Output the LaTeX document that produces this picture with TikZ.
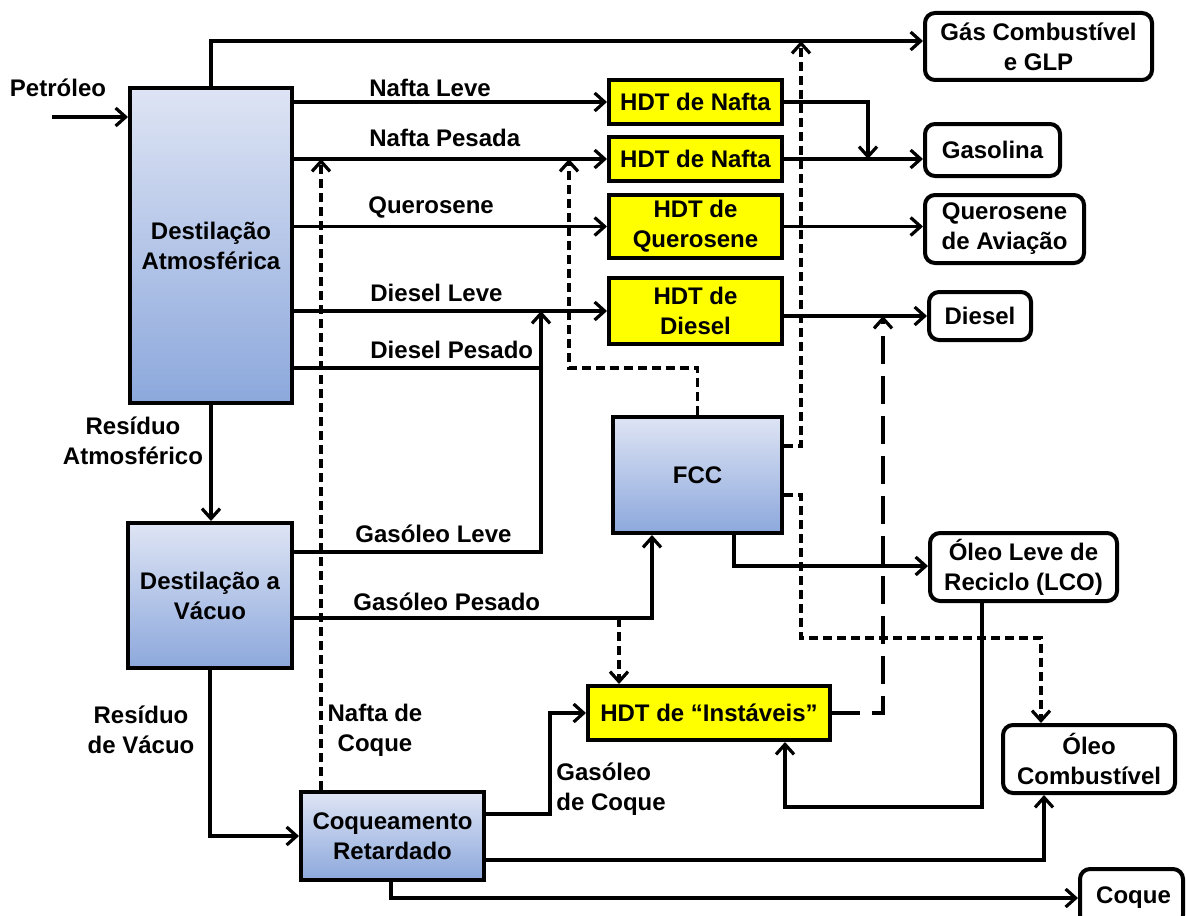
\documentclass[tikz,border=0pt]{standalone}
\usepackage{fontspec}
\setmainfont{Liberation Sans}
\usetikzlibrary{arrows.meta}
\definecolor{boxtop}{RGB}{222,228,244}
\definecolor{boxbot}{RGB}{140,168,220}
\definecolor{hdtyel}{RGB}{255,255,0}
\tikzset{
  base/.style={inner sep=0pt, align=center, font=\bfseries\fontsize{12}{15}\selectfont},
  proc/.style={base, draw, line width=2pt, top color=boxtop, bottom color=boxbot},
  hdt/.style={base, draw, line width=2pt, fill=hdtyel},
  prod/.style={base, draw, line width=2pt, rounded corners=5pt, fill=white},
  lbl/.style={base},
  conn/.style={line width=1.6pt},
  arr/.style={conn, -{Straight Barb[length=5pt,width=9pt,line width=1.6pt]}},
  darr/.style={arr, dash pattern=on 4.5pt off 2.5pt},
  ldarr/.style={arr, dash pattern=on 14pt off 6pt},
}
\begin{document}
\begin{tikzpicture}[x=0.5pt,y=-0.5pt]
\useasboundingbox (0,0) rectangle (1186,915);
% process boxes
\node[proc, minimum width=81pt, minimum height=157.5pt] (da) at (211,245.5) {Destilação\\Atmosférica};
\node[proc, minimum width=82pt, minimum height=72.5pt] (dv) at (210,595.5) {Destilação a\\Vácuo};
\node[proc, minimum width=91.5pt, minimum height=44pt] (cr) at (392.5,836) {Coqueamento\\Retardado};
\node[proc, minimum width=84.5pt, minimum height=58pt] (fcc) at (697.5,475) {FCC};
% HDT boxes
\node[hdt, minimum width=86.5pt, minimum height=22pt] (hn1) at (695.5,102) {HDT de Nafta};
\node[hdt, minimum width=86.5pt, minimum height=22pt] (hn2) at (695.5,159) {HDT de Nafta};
\node[hdt, minimum width=86.5pt, minimum height=31.5pt] (hq) at (695.5,226.5) {HDT de\\Querosene};
\node[hdt, minimum width=86.5pt, minimum height=33pt] (hd) at (695.5,311) {HDT de\\Diesel};
\node[hdt, minimum width=121pt, minimum height=27pt] (hi) at (709,713) {HDT de “Instáveis”};
% product boxes
\node[prod, minimum width=113.5pt, minimum height=33.5pt] (gas) at (1038.5,46.5) {Gás Combustível\\e GLP};
\node[prod, minimum width=67.5pt, minimum height=26pt] (gasol) at (992.5,150) {Gasolina};
\node[prod, minimum width=79.5pt, minimum height=34pt] (qav) at (1004.5,229) {Querosene\\de Aviação};
\node[prod, minimum width=51pt, minimum height=24pt] (dsl) at (980,316) {Diesel};
\node[prod, minimum width=93.5pt, minimum height=34pt] (lco) at (1023.5,567) {Óleo Leve de\\Reciclo (LCO)};
\node[prod, minimum width=86pt, minimum height=34pt] (oc) at (1089,759) {Óleo\\Combustível};
\node[prod, minimum width=51.5pt, minimum height=28pt, text depth=0pt] (coq) at (1131.5,897) {\raisebox{2pt}{Coque}\hspace*{-2pt}};
% helper coordinates
\coordinate (p0) at (52,117);
\coordinate (dp) at (541,368);
\coordinate (gl) at (541,552);
\coordinate (gp) at (652,618);
\coordinate (gi) at (619,618);
\coordinate (nc) at (321,0);
\coordinate (gc) at (550,814);
\coordinate (co) at (1044,860);
\coordinate (cq) at (391,898);
\coordinate (f1) at (569,368);
\coordinate (f2) at (801,446);
\coordinate (f3) at (801,495);
\coordinate (f4) at (1041,638);
\coordinate (f5) at (734,566);
\coordinate (l1) at (982,807);
\coordinate (l2) at (785,807);
\coordinate (i1) at (883,713);
\coordinate (n1) at (868,0);
\coordinate (gtop) at ([yshift=2.75pt]gas.west);
% connectors
\draw[arr] (p0) -- (p0 -| da.west);
\draw[arr] (da.north) |- (gtop);
\draw[arr] (da.east |- hn1) -- (hn1.west);
\draw[arr] (da.east |- hn2) -- (hn2.west);
\draw[arr] (da.east |- hq) -- (hq.west);
\draw[arr] (da.east |- hd) -- (hd.west);
\draw[conn] (da.east |- dp) -- (dp);
\draw[arr] (dv.east |- gl) -- (gl) -- (gl |- hd);
\draw[arr] (dv.east |- gp) -- (gp) -- (gp |- fcc.south);
\draw[darr] (gi) -- (gi |- hi.north);
\draw[arr] (da.south) -- (da.south |- dv.north);
\draw[arr] (dv.south) |- (cr.west);
\draw[darr] (cr.north -| nc) -- (nc |- hn2);
\draw[arr] (cr.east |- gc) -- (gc) |- (hi.west);
\draw[arr] (cr.east |- co) -- (co) -- (co |- oc.south);
\draw[arr] (cr.south -| cq) -- (cq) -- (cq -| coq.west);
\draw[darr] (fcc.north) |- (f1) -- (f1 |- hn2);
\draw[darr] (fcc.east |- f2) -- (f2) -- (f2 |- gtop);
\draw[darr] (fcc.east |- f3) -- (f3) |- (f4) -- (f4 |- oc.north);
\draw[arr] (fcc.south -| f5) -- (f5) -- (f5 -| lco.west);
\draw[arr] (lco.south -| l1) -- (l1) -- (l2) -- (l2 |- hi.south);
\draw[ldarr] (hi.east) -- (i1) -- (i1 |- dsl);
\draw[arr] (hn1.east) -- (n1 |- hn1) -- (n1 |- hn2);
\draw[arr] (hn2.east) -- (hn2.east -| gasol.west);
\draw[arr] (hq.east) -- (hq.east -| qav.west);
\draw[arr] (hd.east |- dsl) -- (dsl.west);
% labels
\node[lbl] (lpet) at (58,88) {Petróleo};
\node[lbl, anchor=west] (lnl) at (369,88) {Nafta Leve};
\node[lbl, anchor=west] (lnp) at (369,138) {Nafta Pesada};
\node[lbl, anchor=west] (lq) at (368,207) {Querosene};
\node[lbl, anchor=west] (ldl) at (370,293) {Diesel Leve};
\node[lbl, anchor=west] (ldp) at (370,350) {Diesel Pesado};
\node[lbl, anchor=west] (lgl) at (355,534) {Gasóleo Leve};
\node[lbl, anchor=west] (lgp) at (353,602) {Gasóleo Pesado};
\node[lbl] (lra) at (133,441) {Resíduo\\Atmosférico};
\node[lbl] (lrv) at (141,730) {Resíduo\\de Vácuo};
\node[lbl] (lnc) at (375,730) {Nafta de\\Coque};
\node[lbl, anchor=west, align=left] (lgc) at (556,789) {Gasóleo\\de Coque};
\end{tikzpicture}
\end{document}
